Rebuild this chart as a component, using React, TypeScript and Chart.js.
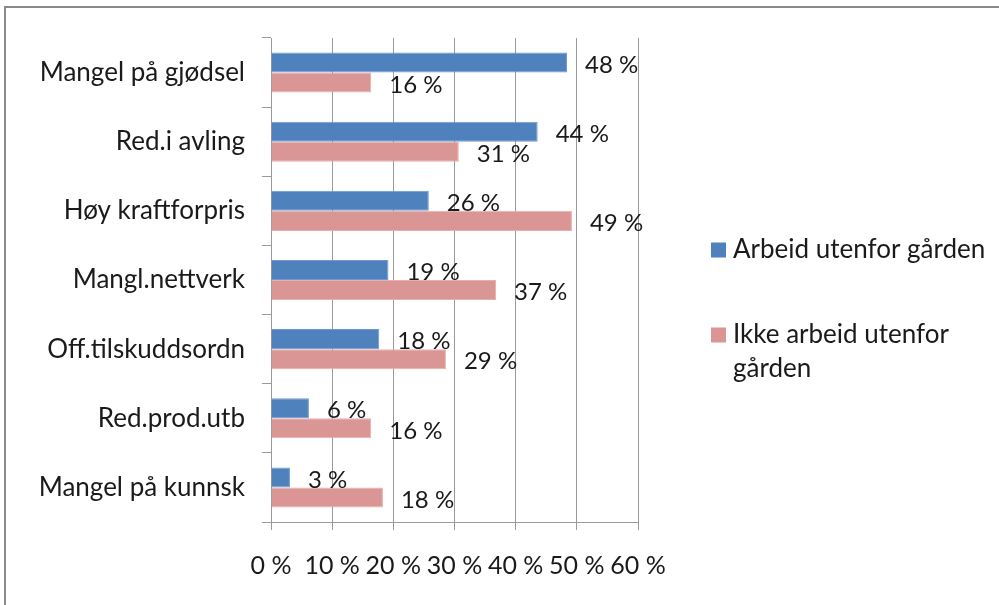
import React, { useEffect, useRef } from 'react';
import { Chart, registerables } from 'chart.js';

Chart.register(...registerables);

const categories = [
  'Mangel på gjødsel',
  'Red.i avling',
  'Høy kraftforpris',
  'Mangl.nettverk',
  'Off.tilskuddsordn',
  'Red.prod.utb',
  'Mangel på kunnsk',
];
const seriesNames = ['Arbeid utenfor gården', 'Ikke arbeid utenfor gården'];
const legendLines = [['Arbeid utenfor gården'], ['Ikke arbeid utenfor', 'gården']];
const arbeidUtenfor = [48.4, 43.6, 25.8, 19.2, 17.7, 6.2, 3.1];
const ikkeArbeidUtenfor = [16.4, 30.7, 49.2, 36.8, 28.6, 16.4, 18.3];
const seriesColors = ['#4F81BD', '#D99694'];
const xMin = 0;
const xMax = 60;
const xStep = 10;

const FONT = 'Lato, "Open Sans", sans-serif';
const Y_FONT_SIZE = 26;
const X_FONT_SIZE = 25;
const LABEL_FONT_SIZE = 24;
const LEGEND_FONT_SIZE = 26;
const TEXT_COLOR = '#1a1a1a';
const GRID_COLOR = '#9a9a9a';

const fmt = (v: number) => `${Math.round(v)} %`;

const dataLabelsPlugin = {
  id: 'dataLabels',
  afterDatasetsDraw(chart: any) {
    const ctx = chart.ctx;
    ctx.save();
    ctx.font = `${LABEL_FONT_SIZE}px ${FONT}`;
    ctx.fillStyle = TEXT_COLOR;
    ctx.textAlign = 'left';
    ctx.textBaseline = 'middle';
    chart.data.datasets.forEach((ds: any, di: number) => {
      const meta = chart.getDatasetMeta(di);
      meta.data.forEach((el: any, i: number) => {
        ctx.fillText(fmt(ds.data[i]), el.x + 18, el.y + 2.5);
      });
    });
    ctx.restore();
  },
};

const legendPlugin = {
  id: 'customLegend',
  afterDraw(chart: any) {
    const ctx = chart.ctx;
    ctx.save();
    ctx.font = `${LEGEND_FONT_SIZE}px ${FONT}`;
    ctx.textAlign = 'left';
    ctx.textBaseline = 'middle';
    const boxX = 711;
    const textX = 733;
    const rowY = [250, 335];
    const lineH = 34;
    legendLines.forEach((lines, i) => {
      ctx.fillStyle = seriesColors[i];
      ctx.fillRect(boxX, rowY[i] - 7.5, 15, 15);
      ctx.fillStyle = TEXT_COLOR;
      lines.forEach((t, j) => ctx.fillText(t, textX, rowY[i] + j * lineH));
    });
    ctx.restore();
  },
};

export default function App() {
  const canvasRef = useRef<HTMLCanvasElement | null>(null);

  useEffect(() => {
    if (!canvasRef.current) return;
    const chart = new Chart(canvasRef.current, {
      type: 'bar',
      data: {
        labels: categories,
        datasets: [
          {
            label: seriesNames[0],
            data: arbeidUtenfor,
            backgroundColor: seriesColors[0],
            borderColor: '#6f9ad0',
            borderWidth: 1,
            categoryPercentage: 0.58,
            barPercentage: 1,
          },
          {
            label: seriesNames[1],
            data: ikkeArbeidUtenfor,
            backgroundColor: seriesColors[1],
            borderColor: '#e6b0ae',
            borderWidth: 1,
            categoryPercentage: 0.58,
            barPercentage: 1,
          },
        ],
      },
      options: {
        indexAxis: 'y',
        responsive: false,
        animation: false,
        devicePixelRatio: 1,
        layout: { padding: { top: 38, right: 361, left: 0, bottom: 0 } },
        plugins: {
          legend: { display: false },
          tooltip: { enabled: false },
        },
        scales: {
          x: {
            min: xMin,
            max: xMax,
            ticks: {
              stepSize: xStep,
              callback: (v: any) => `${v} %`,
              font: { family: FONT, size: X_FONT_SIZE },
              color: TEXT_COLOR,
              padding: 21,
              maxRotation: 0,
              autoSkip: false,
            },
            grid: { color: GRID_COLOR, tickLength: 8, drawTicks: true },
            border: { color: GRID_COLOR },
            afterFit: (axis: any) => {
              axis.height = 605 - 522;
            },
          },
          y: {
            ticks: {
              font: { family: FONT, size: Y_FONT_SIZE },
              color: TEXT_COLOR,
              padding: 17,
              autoSkip: false,
            },
            grid: {
              drawOnChartArea: false,
              drawTicks: true,
              tickLength: 9,
              color: GRID_COLOR,
              offset: true,
            },
            border: { color: GRID_COLOR },
            afterFit: (axis: any) => {
              axis.width = 271;
            },
          },
        },
      },
      plugins: [dataLabelsPlugin, legendPlugin],
    } as any);
    return () => chart.destroy();
  }, []);

  return (
    <div
      style={{
        position: 'absolute',
        left: 0,
        top: 0,
        width: 999,
        height: 605,
        background: '#fff',
        overflow: 'hidden',
      }}
    >
      <div
        style={{
          position: 'absolute',
          left: 4,
          top: 6,
          width: 1200,
          height: 800,
          borderTop: '2px solid #8a8a8a',
          borderLeft: '2px solid #8a8a8a',
        }}
      />
      <canvas
        ref={canvasRef}
        width={999}
        height={605}
        style={{ position: 'absolute', left: 0, top: 0, width: 999, height: 605 }}
      />
    </div>
  );
}
